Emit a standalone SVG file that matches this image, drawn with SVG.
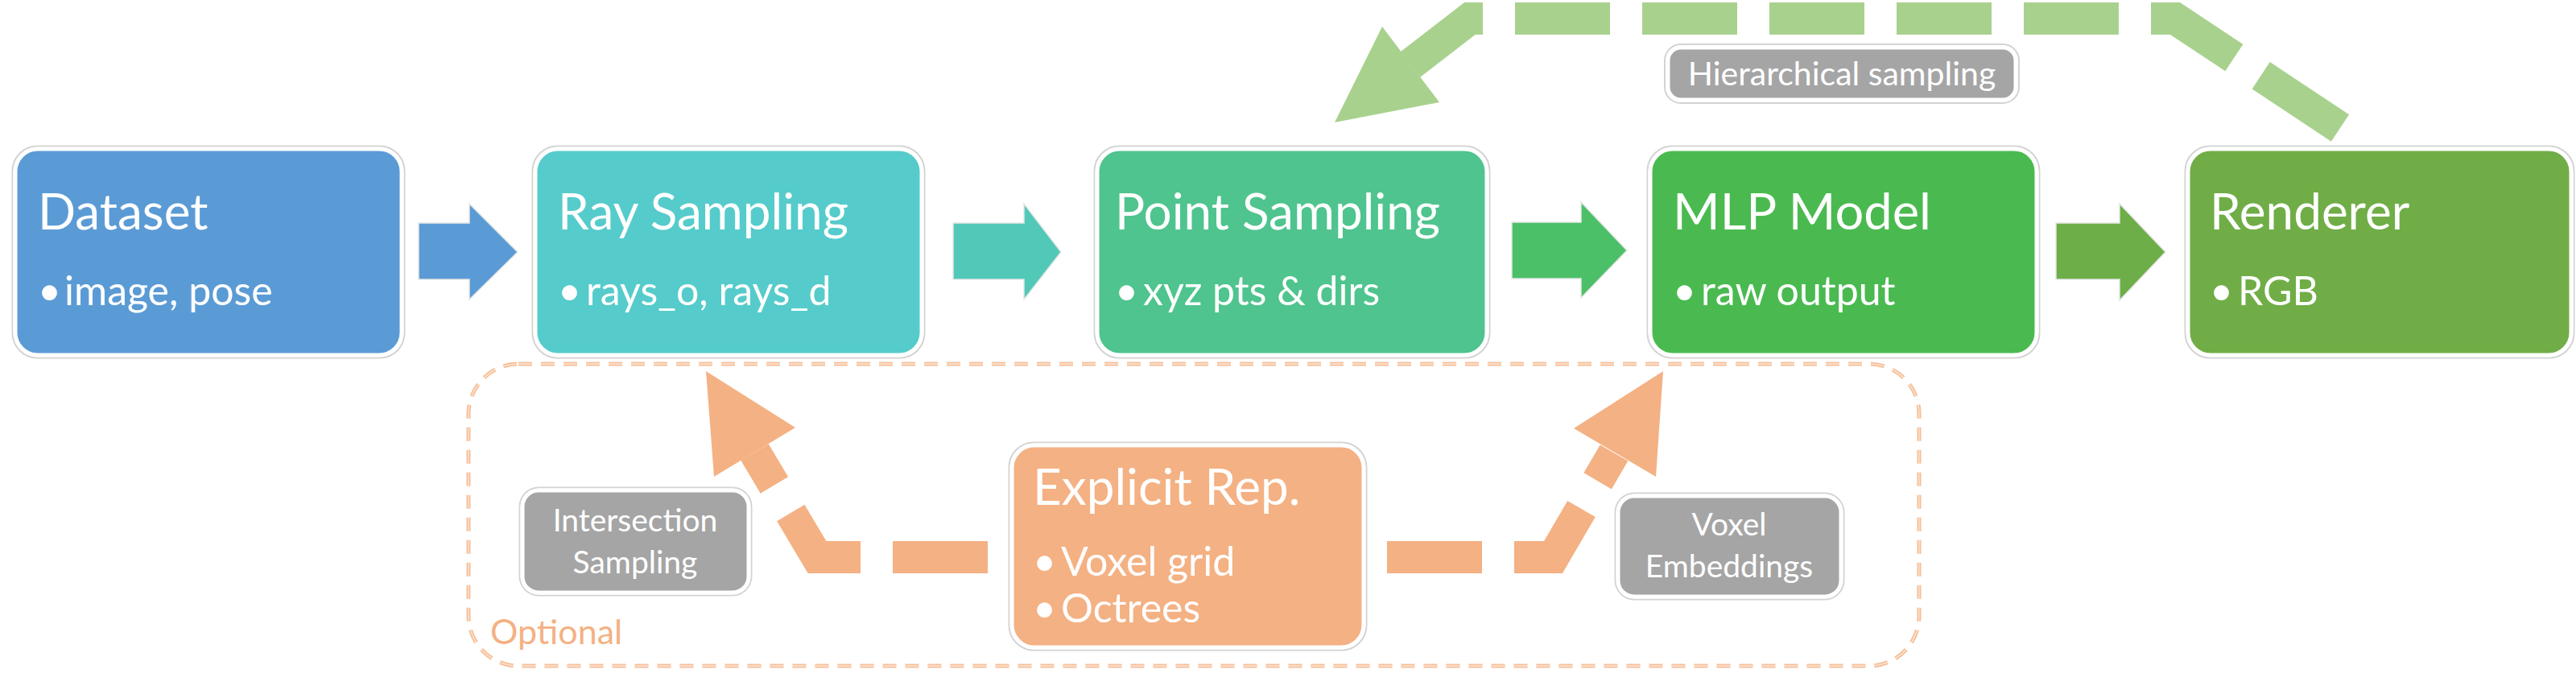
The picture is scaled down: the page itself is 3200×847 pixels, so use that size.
<svg xmlns="http://www.w3.org/2000/svg" width="3200" height="847" viewBox="0 0 3200 847">
<style>
.box{stroke:#fff;stroke-width:5}
.frame{fill:none;stroke:#D3D3D3;stroke-width:2}
.t{font-family:Lato,"Open Sans","Liberation Sans",sans-serif;fill:#fff}
.title{font-size:62px}
.bul{font-size:50px}
.sm{font-size:39px;text-anchor:middle}
.dash{fill:none;stroke-width:40;stroke-dasharray:118 40;stroke-linejoin:miter;stroke-miterlimit:10}
</style>
<rect width="3200" height="847" fill="#fff"/>

<g id="optional">
<rect x="582" y="452" width="1802" height="375" rx="62" fill="none" stroke="#F6BF99" stroke-width="5" stroke-dasharray="17 11"/>
<rect x="582" y="452" width="1802" height="375" rx="62" fill="none" stroke="#FCE6D6" stroke-width="1.3" stroke-dasharray="17 11"/>
<text x="609" y="800" class="t" style="font-size:43px;fill:#F4B183">Optional</text>
</g>

<g id="dataset">
<rect x="15.5" y="181.5" width="487" height="263" rx="31" class="frame"/>
<rect x="19" y="185" width="480" height="256" rx="28" class="box" fill="#5B9BD5"/>
<text x="47" y="285" class="t title">Dataset</text>
<text y="379" class="t bul"><tspan x="47">•</tspan><tspan x="80">image, pose</tspan></text>
</g>

<g id="ray-sampling">
<rect x="661.5" y="181.5" width="487" height="263" rx="31" class="frame"/>
<rect x="665" y="185" width="480" height="256" rx="28" class="box" fill="#56CBCB"/>
<text x="693" y="285" class="t title">Ray Sampling</text>
<text y="379" class="t bul"><tspan x="693">•</tspan><tspan x="728">rays_o, rays_d</tspan></text>
</g>

<g id="point-sampling">
<rect x="1359.5" y="181.5" width="491" height="263" rx="31" class="frame"/>
<rect x="1363" y="185" width="484" height="256" rx="28" class="box" fill="#4FC48E"/>
<text x="1385" y="285" class="t title">Point Sampling</text>
<text y="379" class="t bul"><tspan x="1385">•</tspan><tspan x="1420">xyz pts &amp; dirs</tspan></text>
</g>

<g id="mlp-model">
<rect x="2046.5" y="181.5" width="487" height="263" rx="31" class="frame"/>
<rect x="2050" y="185" width="480" height="256" rx="28" class="box" fill="#4ABA50"/>
<text x="2078" y="285" class="t title" textLength="321" lengthAdjust="spacingAndGlyphs">MLP Model</text>
<text y="379" class="t bul"><tspan x="2078">•</tspan><tspan x="2113">raw output</tspan></text>
</g>

<g id="renderer">
<rect x="2714.5" y="181.5" width="483" height="263" rx="31" class="frame"/>
<rect x="2718" y="185" width="476" height="256" rx="28" class="box" fill="#70AD47"/>
<text x="2745" y="285" class="t title">Renderer</text>
<text y="379" class="t bul"><tspan x="2745">•</tspan><tspan x="2780">RGB</tspan></text>
</g>

<g id="explicit-rep">
<rect x="1253.5" y="549.5" width="444" height="258" rx="31" class="frame"/>
<rect x="1257" y="553" width="437" height="251" rx="28" class="box" fill="#F4B183"/>
<text x="1283" y="627" class="t title">Explicit Rep.</text>
<text y="715" class="t bul"><tspan x="1283">•</tspan><tspan x="1318">Voxel grid</tspan></text>
<text y="773" class="t bul"><tspan x="1283">•</tspan><tspan x="1318">Octrees</tspan></text>
</g>

<g id="hierarchical-sampling">
<rect x="2068" y="55" width="440" height="73" rx="20" class="frame"/>
<rect x="2072" y="59" width="432" height="65" rx="16" class="box" fill="#A5A5A5"/>
<text x="2288" y="106" class="t sm" style="font-size:41px">Hierarchical sampling</text>
</g>

<g id="intersection-sampling">
<rect x="645.5" y="605.5" width="288" height="134" rx="24" class="frame"/>
<rect x="649" y="609" width="281" height="127" rx="20" class="box" fill="#A5A5A5"/>
<text x="789" y="660" class="t sm">Intersection</text>
<text x="789" y="712" class="t sm">Sampling</text>
</g>

<g id="voxel-embeddings">
<rect x="2006.5" y="612.5" width="284" height="132" rx="24" class="frame"/>
<rect x="2010" y="616" width="277" height="125" rx="20" class="box" fill="#A5A5A5"/>
<text x="2148" y="665" class="t sm">Voxel</text>
<text x="2148" y="717" class="t sm">Embeddings</text>
</g>

<g id="connectors">
<polygon points="520,277 583,277 583,253 643,313 583,372 583,347 520,347" fill="#5B9BD5" stroke="#E6E6E6" stroke-width="1.5"/>
<polygon points="1184,277 1272,277 1272,253 1318,313 1272,372 1272,347 1184,347" fill="#52C8B8" stroke="#E6E6E6" stroke-width="1.5"/>
<polygon points="1878,276 1964,276 1964,251 2021,311 1964,370 1964,346 1878,346" fill="#4CC068" stroke="#E6E6E6" stroke-width="1.5"/>
<polygon points="2554,277 2633,277 2633,253 2690,313 2633,373 2633,347 2554,347" fill="#6DAE48" stroke="#E6E6E6" stroke-width="1.5"/>

<path d="M2907 159 L2702 23 L1826 23 L1752 80" class="dash" stroke="#A9D18E"/>
<polygon points="1717,33 1658,152 1788,127" fill="#A9D18E"/>

<path d="M1227 692 L1015 692 L937.5 561.5" class="dash" stroke="#F4B183"/>
<polygon points="988,531 877,461 887,592" fill="#F4B183"/>

<path d="M1723 692 L1929.5 692 L2005 562.5" class="dash" stroke="#F4B183"/>
<polygon points="1955,532 2066,461 2057,592" fill="#F4B183"/>
</g>
</svg>
